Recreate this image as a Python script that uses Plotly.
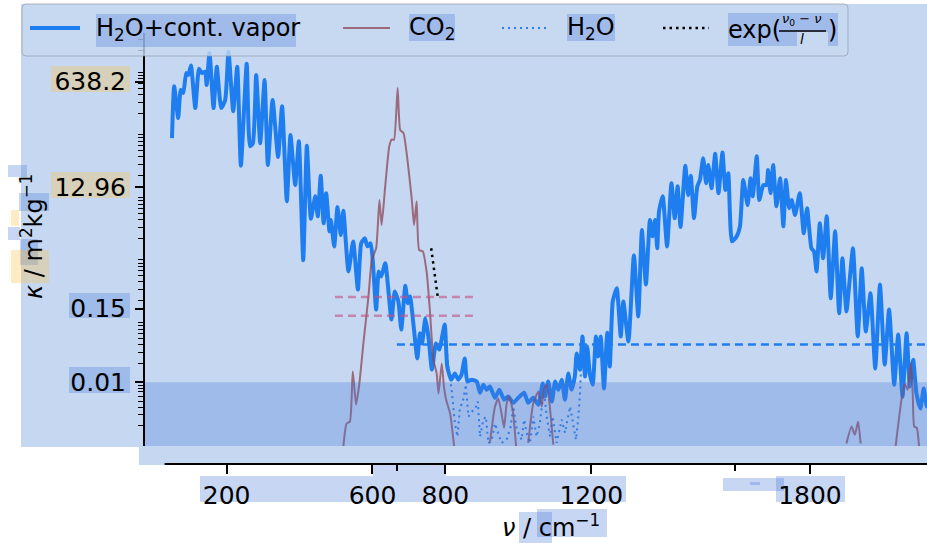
import numpy as np
import plotly.graph_objects as go

W, H = 927, 543

# H2O + continuum, log10(kappa)
wn_total = [50, 56, 67, 74, 81, 89, 95, 102, 114, 124, 132, 141, 145, 153, 164, 173, 185, 196, 205, 218,
            229, 239, 255, 264, 272, 281, 292, 304, 313, 326, 341, 352, 365, 375, 388, 398, 410, 420, 431, 443,
            450, 458, 466, 473, 482, 486, 495, 504, 513, 520, 534,
            547, 560, 569, 579, 586, 595, 610, 617, 624, 635, 652, 661, 671, 679, 690, 697, 703, 723, 730, 736,
            745, 754, 763, 774, 783, 798, 805, 816, 826, 835, 844, 853, 860, 872, 886, 895,
            904, 913, 922, 936, 948, 961, 972, 986, 1000, 1016, 1027, 1041, 1055, 1067, 1073, 1082, 1092, 1101,
            1110, 1119, 1128, 1137, 1146, 1155, 1160, 1169,
            1176, 1183, 1189, 1196, 1204, 1213, 1219, 1226, 1235, 1244, 1251, 1259, 1270, 1281, 1288, 1302,
            1317, 1329, 1339, 1350, 1361, 1368, 1375, 1381, 1386, 1396, 1408, 1420, 1429, 1437, 1445, 1458,
            1466, 1473, 1482, 1491, 1498, 1507, 1515, 1521, 1530, 1540, 1549, 1560, 1568, 1576, 1586, 1599,
            1608, 1617, 1629, 1637, 1643, 1654, 1661,
            1672, 1681, 1685, 1692, 1699, 1708, 1718, 1727, 1734, 1743, 1750, 1759, 1772, 1783, 1792, 1804,
            1811, 1818, 1827, 1836, 1846, 1857, 1869, 1880, 1889, 1900, 1909, 1918, 1931, 1942, 1953, 1966,
            1979, 1992, 2005, 2017, 2031, 2042, 2054, 2065, 2074, 2083, 2092, 2103, 2112, 2121, 2135]
logk_total = [1.90, 2.73, 2.22, 2.67, 2.62, 2.94, 2.91, 3.06, 2.38, 3.01, 2.94, 2.96, 2.75, 3.26, 2.38, 3.04,
              2.38, 2.51, 3.28, 2.33, 3.04, 1.46, 3.09, 1.77, 1.82, 2.91, 1.82, 2.83, 1.47, 2.51, 1.60, 2.41,
              0.89, 1.95, 1.15, 1.85, -0.05, 1.78, 0.61, 0.97, 0.65, 1.30, 0.54, 1.02, 0.41, 0.59, 0.17, 0.80,
              0.35, 0.74, -0.23,
              0.25, -0.52, 0.22, 0.30, 0.17, 0.22, -0.84, -0.23, -0.31, -0.10, -1.00, -0.55, -0.71, -1.16,
              -0.46, -0.74, -0.63, -1.62, -1.22, -1.38, -0.98, -1.30, -1.80, -1.38, -1.48, -1.08, -1.75, -1.96,
              -1.86, -1.96, -1.88, -1.62, -1.99, -1.96, -1.99, -2.17,
              -2.04, -2.12, -2.07, -2.25, -2.12, -2.28, -2.23, -2.33, -2.25, -2.17, -2.33, -2.25, -2.36, -2.02,
              -2.23, -1.99, -2.31, -1.99, -2.12, -1.96, -2.28, -1.86, -2.12, -1.91, -1.54, -1.80,
              -1.27, -1.91, -1.43, -1.86, -2.04, -1.27, -1.59, -1.27, -2.10, -1.21, -1.75, -0.71, -0.50, -1.27,
              -0.71, -1.35, 0.03, -0.95, 0.43, -0.44, 0.59, 0.33, 0.59, 0.14, 0.73, 0.97, 0.17, 1.18, 0.62,
              1.13, 0.48, 1.46, 0.99, 1.30, 0.62, 1.13, 1.23, 1.58, 1.18, 1.47, 1.10, 1.65, 1.02, 1.67, 1.07,
              1.34, 0.25, 0.33, 0.49, 1.23, 0.83, 1.26, 0.97, 1.61, 0.91,
              1.15, 1.15, 1.39, 1.02, 1.47, 0.81, 1.26, 0.49, 1.23, 0.78, 0.91, 0.67, 1.02, 0.38, 0.78, 0.14,
              0.09, -0.23, 0.54, -0.02, 0.65, -0.66, 0.41, -0.90, -0.02, -0.87, -0.36, 0.14, -1.27, -0.18,
              -1.19, -0.58, -1.78, -0.44, -1.72, -0.84, -2.04, -1.24, -2.23, -1.22, -2.07, -1.64, -2.18, -2.42,
              -2.10, -2.39, -2.20]

# CO2
wn_co2 = [520, 529, 538, 546, 555, 564, 575, 589, 598, 610, 619, 625, 634, 646, 653, 659, 669, 676, 685, 696,
          708, 714, 721, 728, 738, 749, 758, 767, 776, 781, 790, 796, 802, 813, 824, None,
          922, 936, 945, 954, 961, 968, 975, 985, 994, None,
          1027, 1041, 1055, 1064, 1070, 1078, 1085, 1096, None,
          1900, 1914, 1923, 1932, 1939, None,
          2035, 2051, 2060, 2068, 2077, 2082, 2086, 2093, 2099]
logk_co2 = [-3.03, -2.66, -2.63, -1.83, -2.36, -2.02, -1.38, -0.63, -0.05, 0.14, 0.91, 0.51, 1.07, 1.77, 1.88,
            1.87, 2.70, 2.03, 1.98, 1.55, 0.91, 0.51, 0.89, 0.11, 0.09, -0.26, -0.90, -1.64, -1.86, -2.18,
            -1.70, -2.07, -2.28, -2.50, -3.03, None,
            -2.97, -2.39, -2.26, -2.50, -2.73, -2.34, -2.23, -2.47, -3.03, None,
            -2.97, -2.34, -2.15, -2.39, -2.12, -2.04, -2.31, -3.00, None,
            -2.98, -2.71, -2.84, -2.63, -2.98, None,
            -3.02, -2.28, -2.03, -2.12, -1.69, -2.20, -2.71, -2.73, -3.02]

# H2O lines only
wn_h2o = [798, 808, 817, 826, 833, 840, 847, 856, 863, 872, 881, 889, 895, 904, 911, 918, 927, 936, 945, 954,
          968, 979, 986, 996, 1009, 1016, 1023, 1032, 1041, 1050, 1059, 1070, 1078, 1087, 1094, 1105, 1119,
          1128, 1142, 1151, 1158, 1164, 1169, 1176]
logk_h2o = [-1.08, -1.75, -2.12, -2.65, -2.87, -2.39, -2.34, -2.04, -2.55, -2.47, -2.44, -2.31, -2.87, -2.60,
            -2.55, -2.98, -2.92, -2.66, -2.82, -2.97, -2.92, -2.71, -2.39, -2.76, -2.92, -2.60, -2.81, -2.97,
            -2.55, -2.87, -2.66, -2.12, -2.55, -2.87, -2.55, -2.97, -2.60, -2.81, -2.39, -2.66, -2.92, -2.60,
            -2.20, -1.27]

# reference levels and exponential fit
wn_cont_level = [667, 2200]
k_cont_level = [0.04, 0.04]
wn_co2_levels = [497, 877]
k_co2_levels = [0.23, 0.115]
wn_fit = [761, 779]
k_fit = [1.38, 0.23]

y_ticks = [0.01, 0.15, 12.96, 638.2]
y_ticktext = ["0.01", "0.15", "12.96", "638.2"]
x_ticks = [200, 600, 800, 1200, 1800]
x_minor = [667, 1595]

BLUE = "#1f7eef"
LB = "#c6d8f1"
BOX_B = "rgba(70,120,215,0.3)"
BOX_Y = "rgba(255,190,60,0.3)"


def to_k(vals):
    return [None if v is None else 10 ** v for v in vals]


def px(x):
    return x / W


def py(y):
    return 1 - y / H


def rect(x0, y0, x1, y1, color, layer="below"):
    return dict(type="rect", xref="paper", yref="paper", x0=px(x0), x1=px(x1), y0=py(y1), y1=py(y0),
                fillcolor=color, line_width=0, layer=layer)


def hline(x0, x1, y, color, width, dash="solid"):
    return dict(type="line", xref="paper", yref="paper", x0=px(x0), x1=px(x1), y0=py(y), y1=py(y),
                line=dict(color=color, width=width, dash=dash), layer="above")


fig = go.Figure()
fig.add_trace(go.Scatter(x=wn_h2o, y=to_k(logk_h2o), mode="lines",
                         line=dict(color="#2a7fe8", width=2, dash="2px,4px")))
fig.add_trace(go.Scatter(x=wn_total, y=to_k(logk_total), mode="lines",
                         line=dict(color=BLUE, width=4, shape="spline", smoothing=0.5)))
fig.add_trace(go.Scatter(x=wn_co2, y=to_k(logk_co2), mode="lines",
                         line=dict(color="rgba(140,70,85,0.75)", width=2, shape="spline", smoothing=0.5)))
fig.add_trace(go.Scatter(x=wn_cont_level, y=k_cont_level, mode="lines",
                         line=dict(color=BLUE, width=2.5, dash="8px,5px")))
for k in k_co2_levels:
    fig.add_trace(go.Scatter(x=wn_co2_levels, y=[k, k], mode="lines",
                             line=dict(color="rgba(195,80,130,0.6)", width=2.5, dash="8px,5px")))
fig.add_trace(go.Scatter(x=wn_fit, y=k_fit, mode="lines",
                         line=dict(color="black", width=2.5, dash="2.5px,4px")))

shapes = [
    rect(21, 4, 927, 447, LB),
    rect(139, 440, 927, 465, LB),
    # tick label highlights
    rect(51, 66, 130, 92, BOX_Y), rect(51, 172, 130, 198, BOX_Y),
    rect(69, 293, 130, 318, BOX_B), rect(69, 367, 130, 393, BOX_B),
    rect(200, 476, 626, 502, BOX_B), rect(373, 465, 446, 476, BOX_B),
    rect(776, 476, 845, 502, BOX_B), rect(723, 478, 784, 491, BOX_B), rect(750, 482, 760, 485, BOX_B),
    rect(519, 512, 552, 543, BOX_B), rect(537, 509, 607, 537, BOX_B),
    # y title highlights
    rect(8, 165, 27, 177, BOX_B), rect(19, 193, 49, 211, BOX_B), rect(11, 210, 19, 226, BOX_Y),
    rect(8, 227, 20, 240, BOX_B), rect(20, 239, 38, 265, BOX_B), rect(11, 250, 49, 283, BOX_Y),
    # shaded band below 0.01
    dict(type="rect", xref="paper", yref="y", x0=px(145), x1=1, y0=1e-4, y1=0.01,
         fillcolor=BOX_B, line_width=0, layer="above"),
    # x spine
    dict(type="line", xref="paper", yref="paper", x0=px(164.6), x1=1, y0=py(464), y1=py(464),
         line=dict(color="black", width=2), layer="above"),
    # legend frame
    dict(type="path", xref="paper", yref="paper", layer="above",
         path="M {a},{b} L {c},{b} Q {d},{b} {d},{e} L {d},{f} Q {d},{g} {c},{g} L {a},{g} Q {h},{g} {h},{f} "
              "L {h},{e} Q {h},{b} {a},{b} Z".format(a=px(26), c=px(844), d=px(848), h=px(22),
                                                     b=py(4), e=py(8), f=py(52), g=py(56)),
         fillcolor="rgba(199,217,241,0.8)", line=dict(color="rgba(150,155,170,0.7)", width=1)),
    rect(96, 14, 296, 47, BOX_B, "above"), rect(409, 14, 455, 41, BOX_B, "above"),
    rect(567, 14, 615, 41, BOX_B, "above"),
    rect(728, 13, 797, 46, BOX_B, "above"), rect(797, 13, 828, 32, BOX_B, "above"),
    rect(828, 13, 838, 46, BOX_B, "above"),
    hline(30, 80, 28, BLUE, 4),
    hline(343, 390, 28, "rgba(140,70,85,0.75)", 2),
    hline(502, 548, 28, "#2a7fe8", 2, "2px,4px"),
    hline(663, 709, 28, "black", 2.5, "2.5px,4px"),
    hline(779, 826, 31, "black", 1.3),
]


def label(x, y, text, size=24, xanchor="left", angle=0):
    return dict(xref="paper", yref="paper", x=px(x), y=py(y), text=text, showarrow=False,
                xanchor=xanchor, yanchor="middle", textangle=angle, borderpad=0,
                font=dict(size=size, color="black", family="DejaVu Sans"))


annotations = [
    label(95, 30, "H<sub>2</sub>O+cont. vapor"),
    label(408, 29, "CO<sub>2</sub>"),
    label(566, 29, "H<sub>2</sub>O"),
    label(727, 30, "exp("),
    label(802, 19, "<i>ν</i><sub>0</sub> − <i>ν</i>", 13, "center"),
    label(802, 39, "<i>l</i>", 14, "center"),
    label(827, 30, ")"),
    label(551, 526, "<i>ν</i> / cm<sup>−1</sup>", 24, "center"),
    label(32, 236, "<i>κ</i> / m<sup>2</sup>kg<sup>−1</sup>", 24, "center", -90),
]

minor_y = [m * 10.0 ** e for e in range(-4, 4) for m in range(2, 10)]

fig.update_layout(
    width=W, height=H,
    margin=dict(l=0, r=0, t=0, b=0),
    paper_bgcolor="white",
    plot_bgcolor="rgba(0,0,0,0)",
    showlegend=False,
    font=dict(family="DejaVu Sans", color="black"),
    shapes=shapes,
    annotations=annotations,
    xaxis=dict(domain=[px(145), 1], range=[-24, 2121], anchor="free", position=(H - 464) / H,
               showline=False, showgrid=False, zeroline=False,
               tickmode="array", tickvals=x_ticks, ticktext=[str(t) for t in x_ticks],
               ticks="outside", ticklen=9, tickwidth=1.5, tickcolor="black",
               tickfont=dict(size=25),
               minor=dict(tickmode="array", tickvals=x_minor, ticks="outside", ticklen=6,
                          tickwidth=1.5, tickcolor="black")),
    yaxis=dict(domain=[(H - 446) / H, (H - 33) / H], type="log", range=[-3.02, 3.58],
               showline=True, linecolor="black", linewidth=2, showgrid=False, zeroline=False,
               tickmode="array", tickvals=y_ticks, ticktext=y_ticktext,
               ticks="outside", ticklen=8, tickwidth=1.5, tickcolor="black",
               tickfont=dict(size=25), ticklabelstandoff=4,
               minor=dict(tickmode="array", tickvals=minor_y, ticks="outside", ticklen=5,
                          tickwidth=1, tickcolor="black")),
)

fig.write_html("out.html", config={"displayModeBar": False},
               post_script="document.body.style.margin='0';")
